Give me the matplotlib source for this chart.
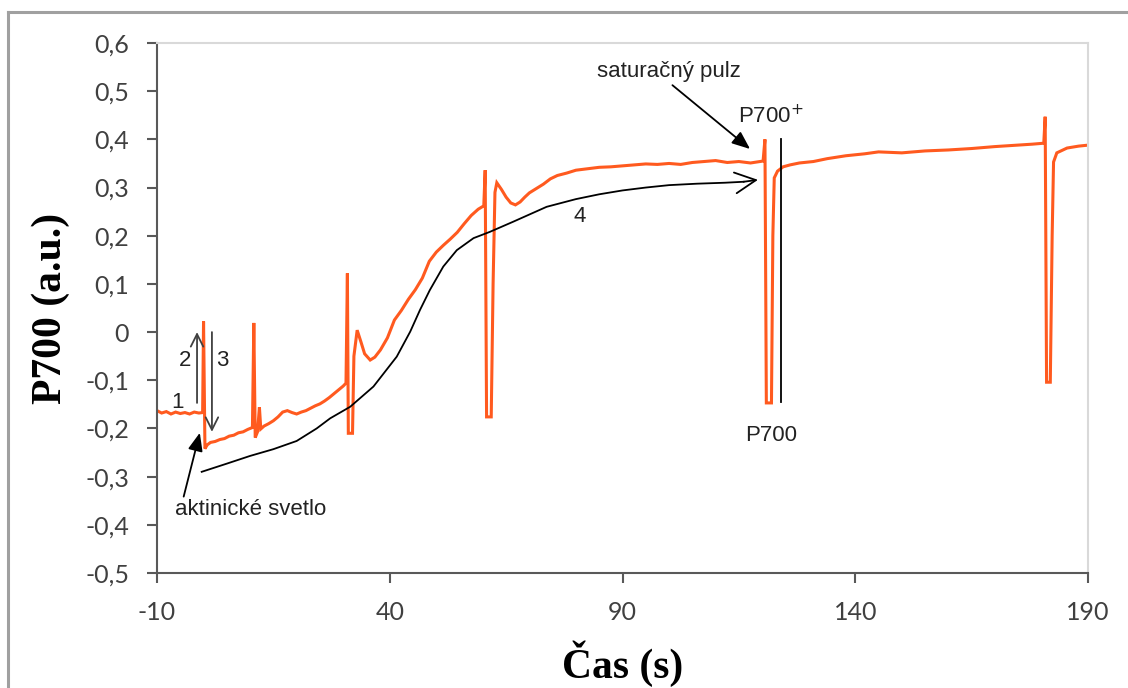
import matplotlib
matplotlib.use('Agg')
import matplotlib.pyplot as plt
from matplotlib import ticker
from matplotlib.lines import Line2D

plt.rcParams['axes.unicode_minus'] = False

# P700 trace (time in s, signal in a.u.)
time_s = [-10, -9, -8, -7, -6, -5, -4, -3, -2, -1, -0.2,
          0.0, 0.3, 0.8, 1.5, 2.5, 3.5, 4.5, 5.5, 6.5, 7.5, 8.5, 9.5, 10.5,
          10.8, 11.1, 11.6, 12.0, 12.3, 13, 14, 15, 16, 17, 18, 19, 20, 21, 22,
          23, 24, 25, 26, 27, 28, 29, 30, 30.6,
          30.9, 31.1, 32.0, 32.3, 33.0, 33.8, 34.6, 35.8, 36.8, 38, 39.5, 41,
          42.5, 44, 45.5, 47, 48.5, 50, 51.5, 53, 54.5, 56, 57.5, 59, 60.2,
          60.5, 60.8, 61.8, 62.2, 62.6, 63.0, 64, 65, 66, 67, 68, 69, 70, 71.5,
          73, 74.5, 76, 78, 80, 82.5, 85, 87.5, 90, 92.5, 95, 97.5, 100, 102.5,
          105, 107.5, 110, 112.5, 115, 117.5, 120.2,
          120.6, 120.9, 122.0, 122.3, 122.6, 123.3, 124.5, 126, 128, 131, 134,
          138, 142, 145, 150, 155, 160, 165, 170, 175, 178, 180.5,
          180.8, 181.1, 181.9, 182.3, 182.6, 183.3, 185.5, 188, 190]
p700 = [-0.163, -0.168, -0.165, -0.170, -0.166, -0.169, -0.167, -0.170, -0.166, -0.168, -0.167,
        0.022, -0.242, -0.234, -0.229, -0.227, -0.223, -0.221, -0.216, -0.214, -0.209, -0.207, -0.202, -0.198,
        0.019, -0.219, -0.207, -0.156, -0.201, -0.195, -0.190, -0.184, -0.176, -0.166, -0.163, -0.167, -0.170, -0.166, -0.163,
        -0.158, -0.153, -0.149, -0.143, -0.136, -0.128, -0.120, -0.112, -0.106,
        0.122, -0.210, -0.210, -0.050, 0.004, -0.020, -0.045, -0.058, -0.052, -0.037, -0.012, 0.025,
        0.045, 0.068, 0.088, 0.112, 0.147, 0.166, 0.180, 0.193, 0.207, 0.225, 0.242, 0.255, 0.262,
        0.336, -0.176, -0.176, 0.100, 0.290, 0.310, 0.296, 0.280, 0.268, 0.264, 0.270, 0.280, 0.289, 0.298,
        0.307, 0.318, 0.325, 0.330, 0.336, 0.339, 0.342, 0.343, 0.345, 0.347, 0.349, 0.348, 0.350, 0.348,
        0.352, 0.354, 0.356, 0.352, 0.354, 0.351, 0.355,
        0.400, -0.147, -0.147, 0.200, 0.320, 0.334, 0.343, 0.347, 0.351, 0.354, 0.360,
        0.366, 0.370, 0.374, 0.372, 0.376, 0.378, 0.381, 0.385, 0.388, 0.390, 0.392,
        0.447, -0.104, -0.104, 0.200, 0.353, 0.372, 0.382, 0.386, 0.388]

# hand-drawn guide curve "4" (annotation, not data)
guide_t = [-0.4, 5, 10, 15, 20, 24.3, 27.2, 31.5, 36.5, 41.5, 44.4, 46.5, 48.6,
           51.5, 54.4, 58, 61.5, 66.5, 73.7, 80, 85, 90, 95, 100, 106, 112, 116]
guide_v = [-0.29, -0.273, -0.257, -0.243, -0.226, -0.200, -0.179, -0.155, -0.113,
           -0.051, 0.001, 0.046, 0.087, 0.136, 0.170, 0.195, 0.208, 0.229, 0.260,
           0.276, 0.286, 0.294, 0.300, 0.305, 0.308, 0.310, 0.312]

x_ticks = [-10, 40, 90, 140, 190]
y_ticks = [-0.5, -0.4, -0.3, -0.2, -0.1, 0, 0.1, 0.2, 0.3, 0.4, 0.5, 0.6]

TRACE_COLOR = '#FF5A1F'
TICK_FONT = 'Lato'
NOTE_FONT = 'Liberation Sans'
LABEL_FONT = 'Liberation Serif'


def comma_fmt(v, pos):
    s = f"{round(v, 1) + 0.0:g}"
    return s.replace('.', ',')


def add_notes(ax):
    note = dict(fontsize=16, family=NOTE_FONT, color='#222222')
    # guide curve 4 with open arrow head
    ax.plot(guide_t, guide_v, color='black', lw=1.3)
    ax.annotate('', xy=(119.1, 0.316), xytext=(guide_t[-1], guide_v[-1]),
                arrowprops=dict(arrowstyle='->,head_length=1.5,head_width=0.75',
                                color='black', lw=1.3, shrinkA=0, shrinkB=0,
                                mutation_scale=10))
    ax.text(80.9, 0.239, '4', ha='center', va='center', **note)

    # steps 1, 2, 3
    ax.annotate('', xy=(-1.4, 0.0), xytext=(-1.4, -0.147),
                arrowprops=dict(arrowstyle='->,head_length=0.9,head_width=0.45',
                                color='#404040', lw=1.3, shrinkA=0, shrinkB=0,
                                mutation_scale=10))
    ax.annotate('', xy=(1.8, -0.207), xytext=(1.8, 0.0),
                arrowprops=dict(arrowstyle='->,head_length=0.9,head_width=0.45',
                                color='#404040', lw=1.3, shrinkA=0, shrinkB=0,
                                mutation_scale=10))
    ax.text(-5.7, -0.147, '1', ha='center', va='center', **note)
    ax.text(-4.0, -0.058, '2', ha='center', va='center', **note)
    ax.text(4.0, -0.058, '3', ha='center', va='center', **note)

    # actinic light
    ax.annotate('aktinické svetlo', xy=(-0.8, -0.209), xytext=(10.2, -0.369),
                ha='center', va='center', **note,
                arrowprops=dict(arrowstyle='-|>,head_length=1.1,head_width=0.45',
                                color='black', lw=1.3, shrinkA=0, shrinkB=0,
                                mutation_scale=10, relpos=(0.05, 1.0)))

    # saturation pulse
    ax.annotate('saturačný pulz', xy=(117.4, 0.38), xytext=(100.0, 0.54),
                ha='center', va='center', **note,
                arrowprops=dict(arrowstyle='-|>,head_length=1.1,head_width=0.45',
                                color='black', lw=1.3, shrinkA=0, shrinkB=0,
                                mutation_scale=10, relpos=(0.5, 0.0)))

    # P700 / P700+ marker
    ax.plot([124.0, 124.0], [-0.145, 0.40], color='black', lw=1.3)
    ax.text(121.9, 0.447, 'P700$^{+}$', ha='center', va='center', **note)
    ax.text(121.9, -0.214, 'P700', ha='center', va='center', **note)


def make_figure(output_path='out.png'):
    fig = plt.figure(figsize=(11.28, 6.88), dpi=100)
    ax = fig.add_axes([157 / 1128, 115 / 688, 931 / 1128, 530 / 688])

    ax.plot(time_s, p700, color=TRACE_COLOR, lw=2.2, solid_joinstyle='miter')

    ax.set_xlim(-10, 190)
    ax.set_ylim(-0.5, 0.6)
    ax.set_xticks(x_ticks)
    ax.set_yticks(y_ticks)
    ax.yaxis.set_major_formatter(ticker.FuncFormatter(comma_fmt))

    for side in ['top', 'right']:
        ax.spines[side].set_color('#d9d9d9')
        ax.spines[side].set_linewidth(1.5)
    for side in ['left', 'bottom']:
        ax.spines[side].set_color('#595959')
        ax.spines[side].set_linewidth(1.5)

    ax.tick_params(axis='both', direction='out', length=7, width=1.5,
                   color='#595959', labelsize=18, labelcolor='#404040', pad=13)
    for lab in ax.get_xticklabels() + ax.get_yticklabels():
        lab.set_family(TICK_FONT)

    ax.set_xlabel('Čas (s)', family=LABEL_FONT, fontweight='bold',
                  fontsize=30, va='center')
    ax.xaxis.set_label_coords(0.5, (573 - 664) / 530)
    ax.set_ylabel('P700 (a.u.)', family=LABEL_FONT, fontweight='bold',
                  fontsize=30, va='center', ha='center')
    ax.yaxis.set_label_coords((51 - 157) / 931, 0.5)

    add_notes(ax)

    # outer chart frame (only left and top edges are visible)
    fx = 8 / 1128
    fy = 1 - 12 / 688
    fig.add_artist(Line2D([fx, fx], [0, fy], color='#a0a0a0', lw=2.2))
    fig.add_artist(Line2D([fx, 1], [fy, fy], color='#a0a0a0', lw=2.2))

    fig.savefig(output_path, dpi=100)
    plt.close(fig)


if __name__ == "__main__":
    make_figure()
